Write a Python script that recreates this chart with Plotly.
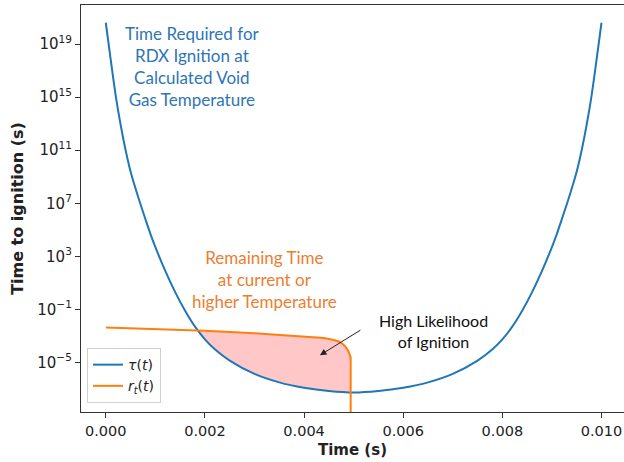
import numpy as np
import plotly.graph_objects as go

# ---------------- data ----------------
time_blue = [0.0, 0.0001, 0.0002, 0.0003, 0.0004, 0.0005, 0.0006, 0.0007, 0.0008, 0.0009,
             0.001, 0.0012, 0.0014, 0.0016, 0.0018, 0.002, 0.0022, 0.0025, 0.003, 0.0035,
             0.004, 0.0045, 0.005, 0.0055, 0.006, 0.0065, 0.007, 0.0075, 0.0078, 0.008,
             0.0082, 0.0084, 0.0086, 0.0088, 0.009, 0.0091, 0.0092, 0.0093, 0.0094, 0.0095,
             0.0096, 0.0097, 0.0098, 0.0099, 0.01]
tau = [4e20, 6.3e17, 1.3e15, 7.9e12, 1e11, 2.5e9, 1.3e8, 8.5e6, 6.3e5, 5e4,
       5e3, 80, 2, 7.9e-2, 5e-3, 5.6e-4, 1e-4, 1.4e-5, 1.4e-6, 3.2e-7,
       1.25e-7, 7e-8, 5.4e-8, 7e-8, 1.25e-7, 3.2e-7, 1.4e-6, 1.4e-5, 1e-4, 5.6e-4,
       5e-3, 7.9e-2, 2, 80, 5e3, 5e4, 6.3e5, 8.5e6, 1.3e8, 2.5e9,
       1e11, 7.9e12, 1.3e15, 6.3e17, 4e20]

time_orange = [0.0, 0.001, 0.002, 0.003, 0.0035, 0.004, 0.0042, 0.0044, 0.0046, 0.0047,
               0.00478, 0.00484, 0.00489, 0.00492, 0.00494, 0.00494]
r_t = [4.3e-3, 3.5e-3, 2.5e-3, 1.6e-3, 1.2e-3, 9.5e-4, 8.3e-4, 7.1e-4, 5.0e-4, 3.8e-4,
       2.5e-4, 1.5e-4, 7.9e-5, 4.5e-5, 2.5e-5, 1e-12]

x_ticks = [0.0, 0.002, 0.004, 0.006, 0.008, 0.010]
y_tick_exps = [-5, -1, 3, 7, 11, 15, 19]

label_blue = "Time Required for<br>RDX Ignition at<br>Calculated Void<br>Gas Temperature"
label_orange = "Remaining Time<br>at current or<br>higher Temperature"
label_black = "High Likelihood<br>of Ignition"

# ---------------- fill region (orange above blue) ----------------
xb = np.array(time_blue)
lb = np.log10(np.array(tau))
xo = np.array(time_orange[:-1])
lo = np.log10(np.array(r_t[:-1]))
xg = np.linspace(xo[0], xo[-1], 600)
gb = np.interp(xg, xb, lb)
go_ = np.interp(xg, xo, lo)
m = go_ > gb
fx = np.concatenate([xg[m], xg[m][::-1]])
fy = np.concatenate([10 ** go_[m], 10 ** gb[m][::-1]])

blue = "#1f77b4"
orange = "#ff7f0e"

fig = go.Figure()
fig.add_trace(go.Scatter(x=fx, y=fy, fill="toself", fillcolor="rgba(255,0,0,0.22)",
                         line=dict(width=0), mode="lines", showlegend=False, hoverinfo="skip"))
fig.add_trace(go.Scatter(x=time_blue, y=tau, mode="lines", name="<i>τ</i>(<i>t</i>)",
                         line=dict(color=blue, width=2, shape="spline", smoothing=1.0)))
fig.add_trace(go.Scatter(x=time_orange, y=r_t, mode="lines",
                         name="<i>r</i><sub><i>t</i></sub>(<i>t</i>)",
                         line=dict(color=orange, width=2)))

axis_font = dict(family="DejaVu Sans", size=14.5, color="#222")
fig.update_xaxes(range=[-0.0005, 0.010454], tickvals=x_ticks,
                 ticktext=[f"{v:.3f}" for v in x_ticks],
                 showgrid=False, zeroline=False, showline=True, linecolor="#333", linewidth=1.3,
                 mirror=True, ticks="outside", ticklen=5, tickwidth=1.2, tickcolor="#333",
                 tickfont=axis_font,
                 title=dict(text="<b>Time (s)</b>", font=dict(family="DejaVu Sans", size=15, color="#222"),
                            standoff=6))
fig.update_yaxes(type="log", range=[-8.73, 21.94],
                 tickvals=[10.0 ** e for e in y_tick_exps],
                 ticktext=[f"10<sup>{e}</sup>".replace("-", "\u2212") for e in y_tick_exps],
                 showgrid=False, zeroline=False, showline=True, linecolor="#333", linewidth=1.3,
                 mirror=True, ticks="outside", ticklen=5, tickwidth=1.2, tickcolor="#333",
                 tickfont=dict(family="DejaVu Sans", size=15, color="#222"),
                 title=dict(text="<b>Time to ignition (s)</b>", font=dict(family="DejaVu Sans", size=16, color="#222"),
                            standoff=9))

fig.add_annotation(x=0.00174, y=17.27, xref="x", yref="y", text=label_blue, showarrow=False,
                   font=dict(family="Lato", size=17, color="#2E75B6"), align="center")
fig.add_annotation(x=0.00320, y=1.24, xref="x", yref="y", text=label_orange, showarrow=False,
                   font=dict(family="Lato", size=17, color="#ED7D31"), align="center")
fig.add_annotation(x=0.00662, y=-2.61, xref="x", yref="y", text=label_black, showarrow=False,
                   font=dict(family="Lato", size=16, color="#111"), align="center")
fig.add_annotation(x=0.00432, y=-4.45, xref="x", yref="y", text="", showarrow=True,
                   ax=42, ay=-26, arrowhead=2, arrowsize=1.3, arrowwidth=1, arrowcolor="#222",
                   standoff=0)

fig.update_layout(width=624, height=462, margin=dict(l=81, r=0, t=5, b=50),
                  paper_bgcolor="white", plot_bgcolor="white",
                  legend=dict(x=0.011, y=0.022, xanchor="left", yanchor="bottom",
                              bgcolor="white", bordercolor="#d0d0d0", borderwidth=1,
                              font=dict(family="DejaVu Sans", size=14, color="#222"),
                              itemwidth=30, tracegroupgap=0))

fig.write_html("out.html")
